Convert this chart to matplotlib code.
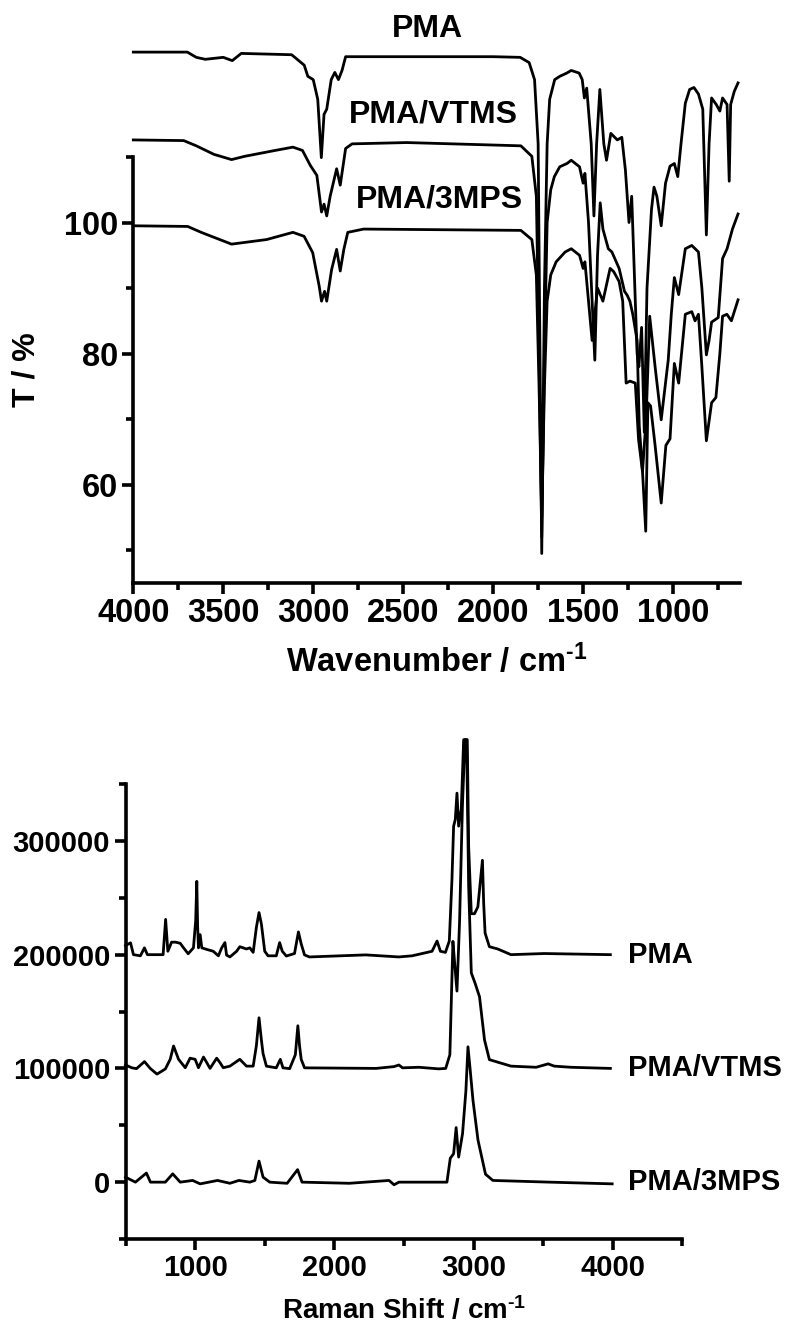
import matplotlib
matplotlib.use("Agg")
import matplotlib.pyplot as plt
from matplotlib.ticker import FixedLocator

plt.rcParams['font.family'] = ['Liberation Sans', 'DejaVu Sans']
plt.rcParams['font.weight'] = 'bold'
plt.rcParams['mathtext.fontset'] = 'custom'
plt.rcParams['mathtext.rm'] = 'Liberation Sans:bold'
plt.rcParams['mathtext.default'] = 'rm'

# ---- FTIR (top), values as plotted, offset stack included ----
pma_ir_x = [4000, 3700, 3650, 3600, 3500, 3450, 3400, 3120, 3050, 3030, 3000, 2975, 2955, 2940,
            2925, 2900, 2880, 2860, 2840, 2820, 2000, 1850, 1800, 1770, 1750, 1730, 1715, 1700,
            1686, 1658, 1630, 1591, 1566, 1522, 1505, 1493, 1480, 1455, 1440, 1425, 1407, 1385,
            1370, 1346, 1310, 1285, 1265, 1245, 1230, 1200, 1190, 1175, 1160, 1145, 1120, 1106,
            1090, 1066, 1042, 1017, 993, 974, 956, 932, 908, 884, 859, 835, 815, 800, 786, 760,
            740, 725, 700, 688, 680, 660, 639]
pma_ir_y = [126.0, 126.0, 125.2, 124.9, 125.2, 124.7, 125.8, 125.6, 124.0, 122.3, 121.8, 118.8,
            109.9, 116.5, 117.3, 121.8, 122.9, 121.8, 123.2, 125.3, 125.3, 125.2, 124.4, 121.8,
            112.0, 49.5, 90.0, 112.0, 118.8, 121.8, 122.3, 122.8, 123.2, 122.8, 121.8, 119.0,
            120.5, 112.0, 101.0, 112.0, 120.3, 112.0, 109.5, 113.6, 112.6, 113.0, 108.0, 100.0,
            104.0, 80.0, 78.0, 84.0, 68.0, 90.0, 102.0, 105.4, 104.0, 99.5, 106.0, 108.6, 109.0,
            107.0, 112.0, 118.2, 120.3, 120.6, 119.6, 117.3, 98.1, 112.0, 119.0, 118.0, 117.0,
            119.0, 118.0, 106.3, 118.0, 120.0, 121.3]

vtms_ir_x = [4000, 3720, 3650, 3552, 3454, 3381, 3211, 3113, 3060, 3016, 2980, 2954, 2940, 2925,
             2906, 2870, 2850, 2820, 2784, 2480, 1846, 1785, 1760, 1745, 1730, 1715, 1700, 1680,
             1660, 1630, 1590, 1566, 1520, 1500, 1490, 1470, 1450, 1435, 1420, 1405, 1390, 1360,
             1340, 1300, 1270, 1255, 1240, 1224, 1200, 1188, 1170, 1150, 1130, 1100, 1066, 1040,
             1027, 1010, 993, 969, 932, 896, 859, 840, 815, 800, 786, 749, 725, 700, 670, 639]
vtms_ir_y = [112.6, 112.5, 111.7, 110.4, 109.6, 110.1, 111.0, 111.5, 111.0, 108.7, 107.2, 101.6,
             102.8, 101.0, 104.0, 108.2, 105.7, 111.3, 112.0, 112.2, 111.7, 110.1, 104.0, 80.0,
             52.0, 80.0, 100.0, 105.0, 107.0, 108.5, 109.0, 109.5, 108.5, 106.0, 107.5, 100.0,
             88.0, 79.0, 95.0, 103.0, 99.0, 96.0, 95.5, 93.0, 89.5, 88.9, 88.0, 86.0, 82.0, 69.0,
             62.0, 70.0, 85.7, 78.0, 69.9, 76.0, 79.0, 86.0, 91.6, 89.0, 96.0, 96.5, 95.5, 90.0,
             79.8, 82.0, 84.8, 85.5, 94.5, 96.0, 99.0, 101.3]

mps_ir_x = [4000, 3698, 3623, 3454, 3259, 3113, 3051, 3003, 2967, 2954, 2937, 2925, 2898, 2870,
            2850, 2830, 2808, 2720, 1846, 1785, 1760, 1745, 1730, 1715, 1700, 1680, 1650, 1600,
            1566, 1520, 1500, 1490, 1470, 1450, 1435, 1420, 1390, 1350, 1330, 1300, 1280, 1261,
            1240, 1210, 1192, 1170, 1152, 1140, 1125, 1100, 1066, 1040, 1017, 993, 969, 932, 896,
            878, 859, 840, 815, 786, 762, 740, 725, 701, 676, 639]
mps_ir_y = [99.5, 99.4, 98.5, 96.7, 97.4, 98.5, 97.9, 95.4, 90.3, 88.0, 89.5, 88.0, 92.8, 95.9,
            92.6, 95.9, 98.5, 99.0, 98.8, 97.4, 92.0, 75.0, 55.0, 75.0, 88.0, 92.0, 94.0, 95.5,
            96.0, 95.0, 93.0, 94.0, 88.0, 82.0, 86.0, 90.0, 88.0, 93.0, 92.5, 91.0, 88.0, 75.5,
            75.8, 75.5, 66.9, 62.0, 52.9, 72.5, 72.0, 66.0, 57.2, 66.0, 67.0, 78.5, 75.5, 86.0,
            86.4, 85.0, 86.0, 78.0, 66.7, 72.5, 73.3, 80.0, 85.7, 86.0, 85.0, 88.2]

ir_labels = ['PMA', 'PMA/VTMS', 'PMA/3MPS']
ir_label_pos = [(2368, 129.6), (2335, 116.5), (2296, 103.5)]

# ---- Raman (bottom), values in thousands as plotted (stacked by 100000) ----
pma_r_x = [500, 536, 557, 607, 636, 657, 770, 788, 804, 831, 859, 893, 917, 950, 988, 1004, 1012,
           1018, 1024, 1036, 1048, 1084, 1130, 1167, 1191, 1214, 1226, 1250, 1298, 1321, 1369,
           1393, 1417, 1440, 1459, 1476, 1500, 1524, 1583, 1607, 1626, 1655, 1714, 1742, 1762,
           1786, 1821, 2226, 2464, 2559, 2631, 2702, 2738, 2762, 2798, 2826, 2845, 2857, 2869,
           2881, 2893, 2912, 2929, 2955, 2965, 2984, 3007, 3031, 3064, 3073, 3083, 3114, 3174,
           3269, 3507, 3983]
pma_r_y = [208, 210.4, 200, 199, 206, 200, 200, 231, 203, 211, 211, 210, 206, 200.8, 206, 230,
           264.5, 225, 206, 217.6, 206, 204.6, 203, 199, 206, 210.6, 199.6, 198, 203, 207, 205,
           206, 202, 224, 237, 227, 203, 199, 199, 210.6, 203, 198.8, 201, 220, 209.5, 199.8, 198,
           199.8, 198, 199, 201, 203, 212, 203, 202, 212, 266, 313, 318.8, 342, 313, 328, 389,
           389, 295, 236, 236, 242, 283, 245, 219, 207, 205, 200, 201, 200]

vtms_r_x = [500, 546, 579, 636, 679, 726, 786, 821, 845, 881, 929, 964, 1000, 1024, 1060, 1084,
            1107, 1155, 1179, 1202, 1250, 1321, 1369, 1417, 1440, 1459, 1476, 1488, 1512, 1583,
            1612, 1631, 1679, 1720, 1738, 1750, 1762, 1786, 2300, 2429, 2464, 2490, 2607, 2750,
            2800, 2830, 2852, 2866, 2881, 2900, 2920, 2938, 2950, 2965, 2984, 3012, 3043, 3079,
            3114, 3269, 3450, 3536, 3580, 3700, 3983]
vtms_r_y = [103, 100.5, 99.8, 106, 99.8, 95, 99.5, 108, 119.7, 108, 100.6, 109, 108, 100.6, 110,
            105, 100, 109, 105, 100.6, 102, 108, 102, 102, 120, 144.5, 125, 113, 102, 100.5, 108,
            100.5, 99.8, 112, 137.5, 120, 108, 100.5, 100, 101.6, 103, 100.5, 101, 99.6, 100, 112,
            211.7, 190, 168, 230, 330, 389, 389, 260, 184, 174.6, 163, 125, 107.7, 102, 101, 104,
            102, 101, 100]

mps_r_x = [500, 571, 650, 679, 786, 839, 893, 982, 1036, 1161, 1250, 1314, 1393, 1429, 1459, 1488,
           1536, 1661, 1736, 1768, 2107, 2393, 2429, 2464, 2809, 2833, 2857, 2875, 2893, 2921,
           2945, 2960, 2975, 2996, 3032, 3086, 3139, 3550, 3996]
mps_r_y = [4.4, 0, 8, 0, 0, 7.3, 0, 1.5, -1.5, 1.5, -1, 1.5, 0, 1.5, 18.5, 4.4, 0, -1, 11, 0, -1,
           1.5, -2.3, 0, 0, 21, 25, 48, 22, 42.6, 80, 119, 100, 72, 37, 7, 1.5, 0, -1.5]

raman_labels = ['PMA', 'PMA/VTMS', 'PMA/3MPS']
raman_label_y = [200000, 100000, 0]

lw = 2.0
sup = '$^{\u2010 1}$'
fig = plt.figure(figsize=(7.87, 13.28), dpi=100)

# top panel
ax1 = fig.add_axes([0.1694, 0.561, 0.7709, 0.3208])
for xs, ys in [(pma_ir_x, pma_ir_y), (vtms_ir_x, vtms_ir_y), (mps_ir_x, mps_ir_y)]:
    ax1.plot(xs, ys, color='black', lw=lw, clip_on=False)
for lab, (lx, ly) in zip(ir_labels, ir_label_pos):
    ax1.text(lx, ly, lab, ha='center', va='center', fontsize=23, fontweight='bold', clip_on=False)
ax1.set_xlim(4000, 628)
ax1.set_ylim(45, 110)
ax1.xaxis.set_major_locator(FixedLocator([4000, 3500, 3000, 2500, 2000, 1500, 1000]))
ax1.xaxis.set_minor_locator(FixedLocator([3750, 3250, 2750, 2250, 1750, 1250, 750]))
ax1.yaxis.set_major_locator(FixedLocator([60, 80, 100]))
ax1.yaxis.set_minor_locator(FixedLocator([50, 70, 90, 110]))
ax1.set_xlabel('Wavenumber / cm' + sup, fontsize=23.5, fontweight='bold', labelpad=10)
ax1.set_ylabel('T / %', fontsize=23, fontweight='bold')
ax1.yaxis.set_label_coords(-0.152, 0.5)

# bottom panel
ax2 = fig.add_axes([0.1595, 0.067, 0.7075, 0.3426])
for xs, ys in [(pma_r_x, pma_r_y), (vtms_r_x, vtms_r_y), (mps_r_x, mps_r_y)]:
    ax2.plot(xs, [v * 1000 for v in ys], color='black', lw=lw, clip_on=False)
for lab, ly in zip(raman_labels, raman_label_y):
    ax2.text(4110, ly, lab, ha='left', va='center', fontsize=21, fontweight='bold', clip_on=False)
ax2.set_xlim(500, 4500)
ax2.set_ylim(-50000, 350000)
ax2.xaxis.set_major_locator(FixedLocator([1000, 2000, 3000, 4000]))
ax2.xaxis.set_minor_locator(FixedLocator([500, 1500, 2500, 3500, 4500]))
ax2.yaxis.set_major_locator(FixedLocator([0, 100000, 200000, 300000]))
ax2.yaxis.set_minor_locator(FixedLocator([-50000, 50000, 150000, 250000, 350000]))
ax2.set_xlabel('Raman Shift / cm' + sup, fontsize=20, fontweight='bold', labelpad=10)

for ax in (ax1, ax2):
    for s in ['top', 'right']:
        ax.spines[s].set_visible(False)
    for s in ['left', 'bottom']:
        ax.spines[s].set_linewidth(2.6)
    ax.tick_params(which='major', direction='out', length=8, width=2.6, labelsize=21, pad=3)
    ax.tick_params(which='minor', direction='out', length=5, width=2.6)
ax1.tick_params(labelsize=23.5)
for ax in (ax1, ax2):
    for t in ax.get_xticklabels() + ax.get_yticklabels():
        t.set_fontweight('bold')

fig.savefig('out.png', dpi=100)
